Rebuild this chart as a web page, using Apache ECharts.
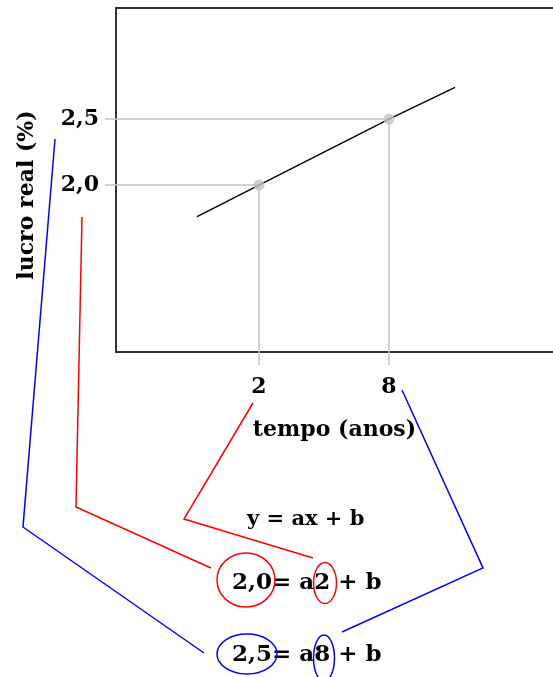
<!DOCTYPE html>
<html>
<head>
<meta charset="utf-8">
<title>lucro real</title>
<script src="https://cdn.jsdelivr.net/npm/echarts@6/dist/echarts.min.js"></script>
<style>
    html, body { margin: 0; padding: 0; background: #fff; }
    #chart { width: 553px; height: 677px; }
</style>
</head>
<body>
<div id="chart"></div>
<script>
// valores
var xTicks = [2, 8]
var yTicks = [2.0, 2.5]
var pontosX = [2, 8]
var pontosY = [2.0, 2.5]
var retaX = [-0.86, 2, 8, 11.05]
var retaY = [1.76, 2.0, 2.5, 2.74]

var xNome = 'tempo (anos)'
var yNome = 'lucro real (%)'
var equacoes = ['y = ax + b', '2,0= a2 + b', '2,5= a8 + b']

// limites dos eixos (o gráfico é esquemático)
var xMin = -4.6, xMax = 15.57
var yMin = 0.735, yMax = 3.341

var fonte = "'DejaVu Serif', 'Liberation Serif', serif"
var cinza = '#c3c3c3'
var vermelho = '#ff0000'
var azul = '#0000ff'

function virgula(v) {
    return v.toFixed(1).replace('.', ',')
}

var chart = echarts.init(document.getElementById('chart'))

var series = []
// linhas de chamada até os eixos
for (var i = 0; i < pontosX.length; i++) {
    series.push({
        type: 'line',
        data: [[xMin, pontosY[i]], [pontosX[i], pontosY[i]], [pontosX[i], yMin]],
        symbol: 'none',
        lineStyle: { color: cinza, width: 1.5 },
        silent: true,
        z: 1
    })
}
series.push({
    type: 'line',
    data: retaX.map(function (x, i) { return [x, retaY[i]] }),
    symbol: 'none',
    lineStyle: { color: '#000', width: 1.4 },
    z: 2
})
series.push({
    type: 'scatter',
    data: pontosX.map(function (x, i) { return [x, pontosY[i]] }),
    symbolSize: 11,
    itemStyle: { color: cinza },
    z: 3
})

var option = {
    animation: false,
    backgroundColor: '#fff',
    grid: { left: 116, top: 8, right: 0, bottom: 325 },
    xAxis: [{
        type: 'value',
        min: xMin,
        max: xMax,
        name: xNome,
        nameLocation: 'middle',
        nameGap: 67,
        nameTextStyle: { fontFamily: fonte, fontWeight: 'bold', fontSize: 22, color: '#000' },
        splitLine: { show: false },
        axisLine: { onZero: false, lineStyle: { color: '#333', width: 2 } },
        axisTick: { customValues: xTicks, length: 13, lineStyle: { color: cinza, width: 1.5 } },
        axisLabel: {
            customValues: xTicks,
            margin: 24,
            fontFamily: fonte, fontWeight: 'bold', fontSize: 22, color: '#000'
        }
    }, {
        type: 'value',
        position: 'top',
        min: xMin,
        max: xMax,
        splitLine: { show: false },
        axisLine: { show: true, onZero: false, lineStyle: { color: '#333', width: 2 } },
        axisTick: { show: false },
        axisLabel: { show: false }
    }],
    yAxis: {
        type: 'value',
        min: yMin,
        max: yMax,
        name: yNome,
        nameLocation: 'middle',
        nameGap: 78,
        nameTextStyle: { fontFamily: fonte, fontWeight: 'bold', fontSize: 22, color: '#000', padding: [0, 30, 0, 0] },
        splitLine: { show: false },
        axisLine: { show: true, onZero: false, lineStyle: { color: '#333', width: 2 } },
        axisTick: { customValues: yTicks, length: 11, lineStyle: { color: cinza, width: 1.5 } },
        axisLabel: {
            customValues: yTicks,
            margin: 17,
            formatter: virgula,
            fontFamily: fonte, fontWeight: 'bold', fontSize: 22, color: '#000'
        }
    },
    series: series,
    graphic: [
        // ligações vermelhas (ponto x = 2)
        { type: 'polyline', shape: { points: [[82, 217], [76, 507], [211, 568]] }, style: { stroke: vermelho, lineWidth: 1.5, fill: null } },
        { type: 'polyline', shape: { points: [[253, 403], [184, 519], [313, 558]] }, style: { stroke: vermelho, lineWidth: 1.5, fill: null } },
        // ligações azuis (ponto x = 8)
        { type: 'polyline', shape: { points: [[55, 139], [23, 527], [204, 653]] }, style: { stroke: azul, lineWidth: 1.5, fill: null } },
        { type: 'polyline', shape: { points: [[402, 390], [483, 568], [342, 632]] }, style: { stroke: azul, lineWidth: 1.5, fill: null } },
        // equações
        { type: 'text', style: { text: equacoes[0], x: 247, y: 520, font: 'bold 21px ' + fonte, fill: '#000', textVerticalAlign: 'middle' } },
        { type: 'text', style: { text: equacoes[1], x: 232, y: 583, font: 'bold 23px ' + fonte, fill: '#000', textVerticalAlign: 'middle' } },
        { type: 'text', style: { text: equacoes[2], x: 232, y: 655, font: 'bold 23px ' + fonte, fill: '#000', textVerticalAlign: 'middle' } },
        // círculos
        { type: 'ellipse', shape: { cx: 246, cy: 580, rx: 29, ry: 27 }, style: { stroke: vermelho, lineWidth: 1.5, fill: null } },
        { type: 'ellipse', shape: { cx: 325, cy: 583, rx: 11.5, ry: 20.5 }, style: { stroke: vermelho, lineWidth: 1.5, fill: null } },
        { type: 'ellipse', shape: { cx: 247, cy: 654, rx: 30, ry: 20 }, style: { stroke: azul, lineWidth: 1.5, fill: null } },
        { type: 'ellipse', shape: { cx: 324, cy: 658, rx: 10.5, ry: 23 }, style: { stroke: azul, lineWidth: 1.5, fill: null } }
    ]
}

chart.setOption(option)
</script>
</body>
</html>
